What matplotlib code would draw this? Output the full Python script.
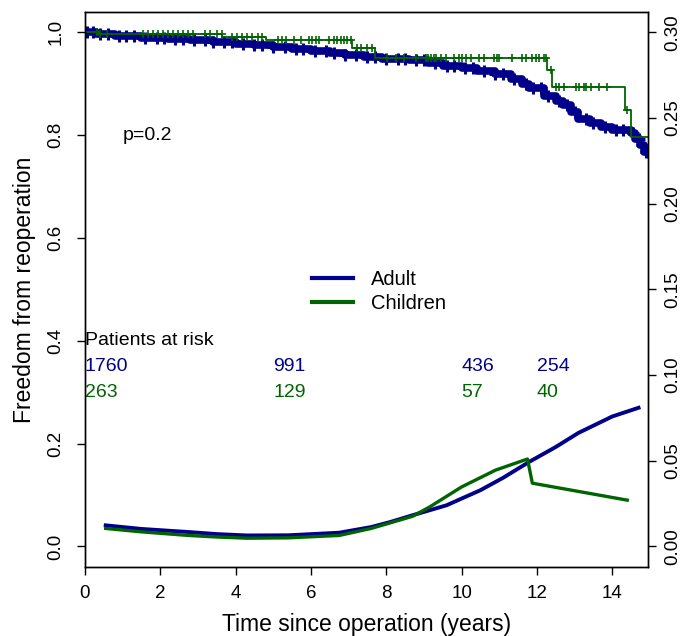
import numpy as np
import matplotlib.pyplot as plt

plt.rcParams['font.family'] = ['Liberation Sans', 'DejaVu Sans']

# Kaplan-Meier steps (years, freedom from reoperation)
adult_time = [0, 0.3, 0.8, 1.5, 2.2, 2.8, 3.4, 4.0, 4.5, 5.0, 5.5, 6.0, 6.5, 6.9, 7.4,
              7.9, 8.6, 9.1, 9.5, 10.0, 10.4, 10.9, 11.3, 11.6, 11.8, 12.2, 12.5, 12.7,
              12.9, 13.1, 13.4, 13.7, 14.0, 14.5, 14.6, 14.75, 14.85]
adult_surv = [1.0, 0.996, 0.992, 0.989, 0.986, 0.984, 0.981, 0.978, 0.975, 0.972, 0.968,
              0.964, 0.959, 0.955, 0.951, 0.948, 0.946, 0.940, 0.934, 0.930, 0.924, 0.919,
              0.910, 0.899, 0.891, 0.876, 0.866, 0.858, 0.845, 0.832, 0.824, 0.816, 0.809,
              0.804, 0.793, 0.780, 0.768]
adult_cens = [0.05, 0.2, 0.4, 0.6, 0.9, 1.1, 1.3, 1.6, 1.9, 2.1, 2.4, 2.6, 2.9, 3.2, 3.4,
              3.7, 3.9, 4.2, 4.5, 4.7, 5.0, 5.3, 5.6, 5.8, 6.1, 6.4, 6.6, 6.9, 7.2, 7.5,
              7.7, 8.0, 8.3, 8.5, 8.8, 9.0, 9.3, 9.6, 9.8, 10.1, 10.3, 10.6, 10.9, 11.1,
              11.4, 11.7, 11.9, 12.1, 12.3, 12.6, 12.8, 13.0, 13.3, 13.5, 13.8, 14.1, 14.3,
              14.55, 14.7, 14.8, 14.9]

child_time = [0, 0.35, 3.65, 4.8, 7.1, 7.7, 12.27, 12.40, 14.35, 14.50]
child_surv = [1.0, 0.996, 0.990, 0.985, 0.970, 0.950, 0.926, 0.893, 0.848, 0.797]
child_cens = [0.31, 0.40, 0.58, 1.54, 1.67, 1.81, 1.94, 2.07, 2.21, 2.34, 2.47, 2.60, 2.74,
              2.87, 3.19, 3.32, 3.51, 3.64, 3.91, 4.04, 4.17, 4.30, 4.44, 4.60, 4.70, 5.13,
              5.23, 5.34, 5.55, 5.74, 5.95, 6.03, 6.14, 6.22, 6.48, 6.62, 6.70, 6.80, 6.88,
              6.96, 7.07, 7.23, 7.33, 7.49, 7.62, 8.02, 8.26, 8.47, 8.79, 9.06, 9.12, 9.19,
              9.26, 9.33, 9.46, 9.59, 9.80, 9.94, 10.02, 10.12, 10.25, 10.47, 10.60, 10.87,
              10.95, 11.00, 11.34, 11.61, 11.72, 11.88, 11.98, 12.06, 12.19, 12.25, 12.38,
              12.51, 12.59, 12.73, 13.04, 13.12, 13.26, 13.31, 13.44, 13.66, 13.87, 14.40]
t_end = 14.95

# hazard curves (right axis)
adult_haz_t = [0.55, 1.5, 2.75, 3.5, 4.3, 5.4, 6.75, 7.6, 8.1, 8.7, 9.6, 10.5, 11.1, 11.8,
               12.5, 13.1, 14.0, 14.7]
adult_haz = [0.0123, 0.0102, 0.0084, 0.0072, 0.0064, 0.0065, 0.0080, 0.0113, 0.0142,
             0.0182, 0.0240, 0.0328, 0.0400, 0.0494, 0.0580, 0.0662, 0.0758, 0.0809]
child_haz_t = [0.55, 1.5, 2.75, 3.5, 4.3, 5.4, 6.75, 7.6, 8.7, 9.15, 10.0, 10.9, 11.75,
               11.88, 14.4]
child_haz = [0.0105, 0.0085, 0.0064, 0.0055, 0.0048, 0.0050, 0.0064, 0.0105, 0.0176,
             0.0230, 0.0347, 0.0445, 0.0510, 0.0369, 0.0270]

risk_times = [0, 5, 10, 12]
risk_adult = [1760, 991, 436, 254]
risk_child = [263, 129, 57, 40]

blue = '#00008B'
green = '#006400'


def km_at(times, surv, pts):
    idx = np.searchsorted(times, pts, side='right') - 1
    return np.array(surv)[idx]


fig = plt.figure(figsize=(6.81, 6.36), dpi=100)
ax = fig.add_axes([0.1248, 0.1085, 0.8267, 0.8731])

ax.step(adult_time + [t_end], adult_surv + [adult_surv[-1]], where='post',
        color=blue, lw=5.5)
ax.plot(adult_cens, km_at(adult_time, adult_surv, adult_cens), '+', color=blue,
        ms=8, mew=2.2)
ax.step(child_time + [t_end], child_surv + [child_surv[-1]], where='post',
        color=green, lw=1.3)
ax.plot(child_cens, km_at(child_time, child_surv, child_cens), '+', color=green,
        ms=6, mew=1.2)

ax.text(1, 0.8, 'p=0.2', fontsize=14, va='center', ha='left')
ax.text(0, 0.4, 'Patients at risk', fontsize=14, va='center', ha='left')
for t, a, c in zip(risk_times, risk_adult, risk_child):
    ax.text(t, 0.35, str(a), color=blue, fontsize=14, va='center', ha='left')
    ax.text(t, 0.30, str(c), color=green, fontsize=14, va='center', ha='left')

ax.set_xlim(0, t_end)
ax.set_ylim(-0.04, 1.04)
ax.set_xticks(range(0, 15, 2))
ax.set_yticks([0, 0.2, 0.4, 0.6, 0.8, 1.0])
ax.set_yticklabels(['0.0', '0.2', '0.4', '0.6', '0.8', '1.0'])
ax.tick_params(axis='both', length=6, width=1, labelsize=13.5, direction='out')
ax.tick_params(axis='x', pad=7)
ax.tick_params(axis='y', pad=9)
for lbl in ax.get_yticklabels():
    lbl.set_rotation(90)
    lbl.set_va('center')
ax.set_xlabel('Time since operation (years)', fontsize=16.5, labelpad=8)
ax.set_ylabel('Freedom from reoperation', fontsize=16.5, labelpad=8)

ax2 = ax.twinx()
ax2.plot(adult_haz_t, adult_haz, color=blue, lw=2.8, label='Adult')
ax2.plot(child_haz_t, child_haz, color=green, lw=2.4, label='Children')
ax2.set_ylim(-0.04 * 0.3, 1.04 * 0.3)
ax2.set_yticks([0, 0.05, 0.10, 0.15, 0.20, 0.25, 0.30])
ax2.set_yticklabels(['0.00', '0.05', '0.10', '0.15', '0.20', '0.25', '0.30'])
ax2.tick_params(axis='y', length=6, width=1, labelsize=13.5, pad=6)
for lbl in ax2.get_yticklabels():
    lbl.set_rotation(90)
    lbl.set_va('center')

leg = ax2.legend(loc='center left', bbox_to_anchor=(0.386, 0.496), frameon=False,
                 fontsize=14.5, handlelength=2.0, handletextpad=0.9,
                 labelspacing=0.25, borderpad=0)
for h in leg.get_lines():
    h.set_linewidth(3)

for a in (ax, ax2):
    for s in a.spines.values():
        s.set_linewidth(1)

fig.savefig('out.png', dpi=100)
